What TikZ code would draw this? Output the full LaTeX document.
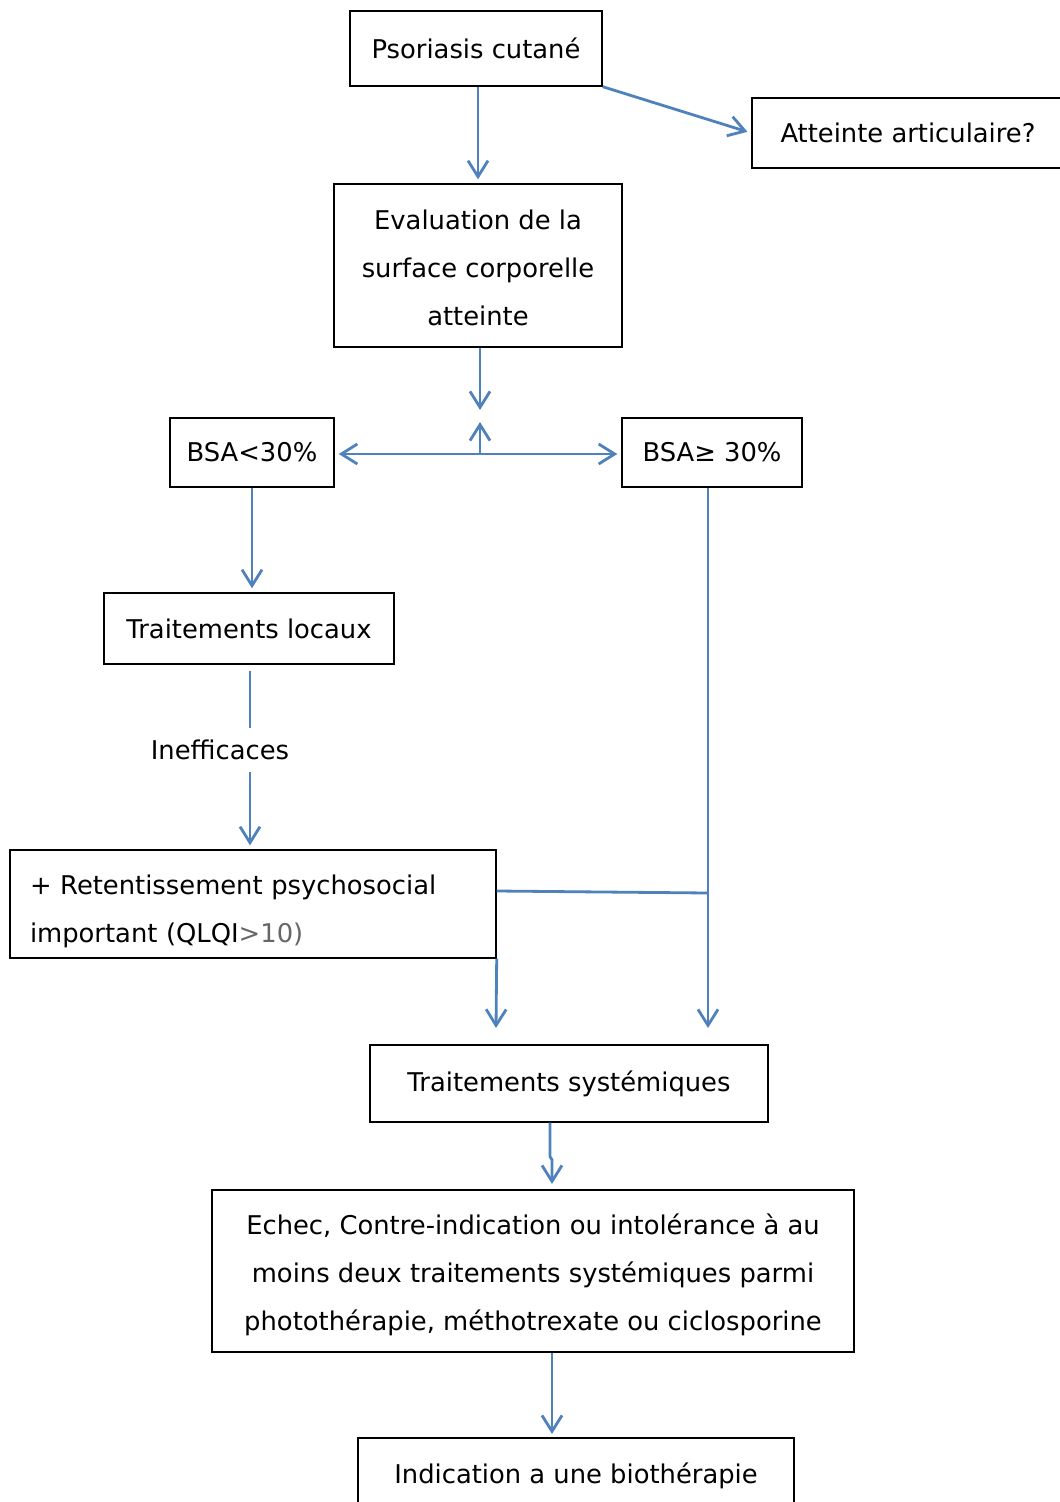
\documentclass[tikz,border=0pt]{standalone}
\usepackage{fontspec}
\setmainfont{DejaVu Sans}
\usetikzlibrary{arrows.meta}
\definecolor{bleu}{HTML}{4F81BD}
\tikzset{
  boite/.style={draw=black, line width=0.7pt, inner sep=0pt, align=center,
    font=\fontsize{12.9}{24}\selectfont},
  fleche/.style={draw=bleu, line width=1.4pt, -{Straight Barb[length=8pt,width=10pt,line width=1.4pt]}},
  ligne/.style={draw=bleu, line width=1.4pt}
}
\begin{document}
\begin{tikzpicture}[x=0.5pt,y=-0.5pt]
\useasboundingbox (0,0) rectangle (1059,1502);
\node[boite, minimum width=126pt, minimum height=37.5pt] (psor) at (476,48.5) {Psoriasis cutané};
\node[boite, minimum width=156pt, minimum height=35pt] (artic) at (908,133) {Atteinte articulaire?};
\node[boite, minimum width=144pt, minimum height=81.5pt] (eval) at (478,265.5) {\rule{0pt}{12.5pt}Evaluation de la\\ surface corporelle\\ atteinte};
\node[boite, minimum width=82pt, minimum height=34.5pt] (bsainf) at (252,452.5) {BSA<30\%};
\node[boite, minimum width=90pt, minimum height=34.5pt] (bsasup) at (712,452.5) {BSA≥ 30\%};
\node[boite, minimum width=145pt, minimum height=35.5pt] (locaux) at (249,628.5) {Traitements locaux};
\node[font=\fontsize{12.9}{24}\selectfont, inner sep=0pt] (ineff) at (220,750) {Inefficaces};
\node[boite, minimum width=243pt, minimum height=54pt, text width=223pt, align=left] (retent) at (253,904)
  {\rule{0pt}{17.5pt}+ Retentissement psychosocial\\ important (QLQI{\color{black!60}>10)}};
\node[boite, minimum width=199pt, minimum height=38.5pt] (syst) at (569,1083.5) {Traitements systémiques};
\node[boite, minimum width=321pt, minimum height=81pt] (echec) at (533,1271)
  {\rule{0pt}{14.5pt}Echec, Contre-indication ou intolérance à au\\ moins deux traitements systémiques parmi\\ photothérapie, méthotrexate ou ciclosporine};
\node[boite, minimum width=218pt, minimum height=37.5pt] (indic) at (576,1475.5) {Indication a une biothérapie};

\coordinate (pointe1) at (480,410);
\coordinate (pointe2) at (480,422);
\coordinate (jonction) at (480,454);
\coordinate (coude) at (708,893);
\coordinate (pointe3) at (708,1028);
\coordinate (pointe4) at (496,1028);
\coordinate (pointe5) at (552,1184);
\coordinate (pointe6) at (552,1434);

\draw[fleche, shorten >=2pt] (eval.north |- psor.south) -- (eval.north);
\draw[fleche, shorten >=2pt] (psor.south east) -- (artic.west);
\draw[fleche] (eval.south -| jonction) -- (pointe1);
\draw[fleche] (jonction) -- (pointe2);
\draw[fleche, shorten >=2pt] (jonction) -- (bsainf.east |- jonction);
\draw[fleche, shorten >=2pt] (jonction) -- (bsasup.west |- jonction);
\draw[fleche, shorten >=2pt] (bsainf.south) -- (locaux.north -| bsainf.south);
\draw[ligne, shorten <=3pt, shorten >=6pt] (locaux.south -| 250,0) -- (ineff.north -| 250,0);
\draw[fleche, shorten <=6pt, shorten >=2pt] (ineff.south -| 250,0) -- (retent.north -| 250,0);
\draw[fleche] (bsasup.south -| coude) -- (pointe3);
\draw[ligne] ([yshift=6.5pt]retent.east) -- (coude);
\draw[fleche] (retent.south east) -- (pointe4);
\draw[fleche] (syst.south -| 550,0) -- ++(0,34) -- ++(2,3) -- (pointe5);
\draw[fleche] (echec.south -| pointe6) -- (pointe6);
\end{tikzpicture}
\end{document}
